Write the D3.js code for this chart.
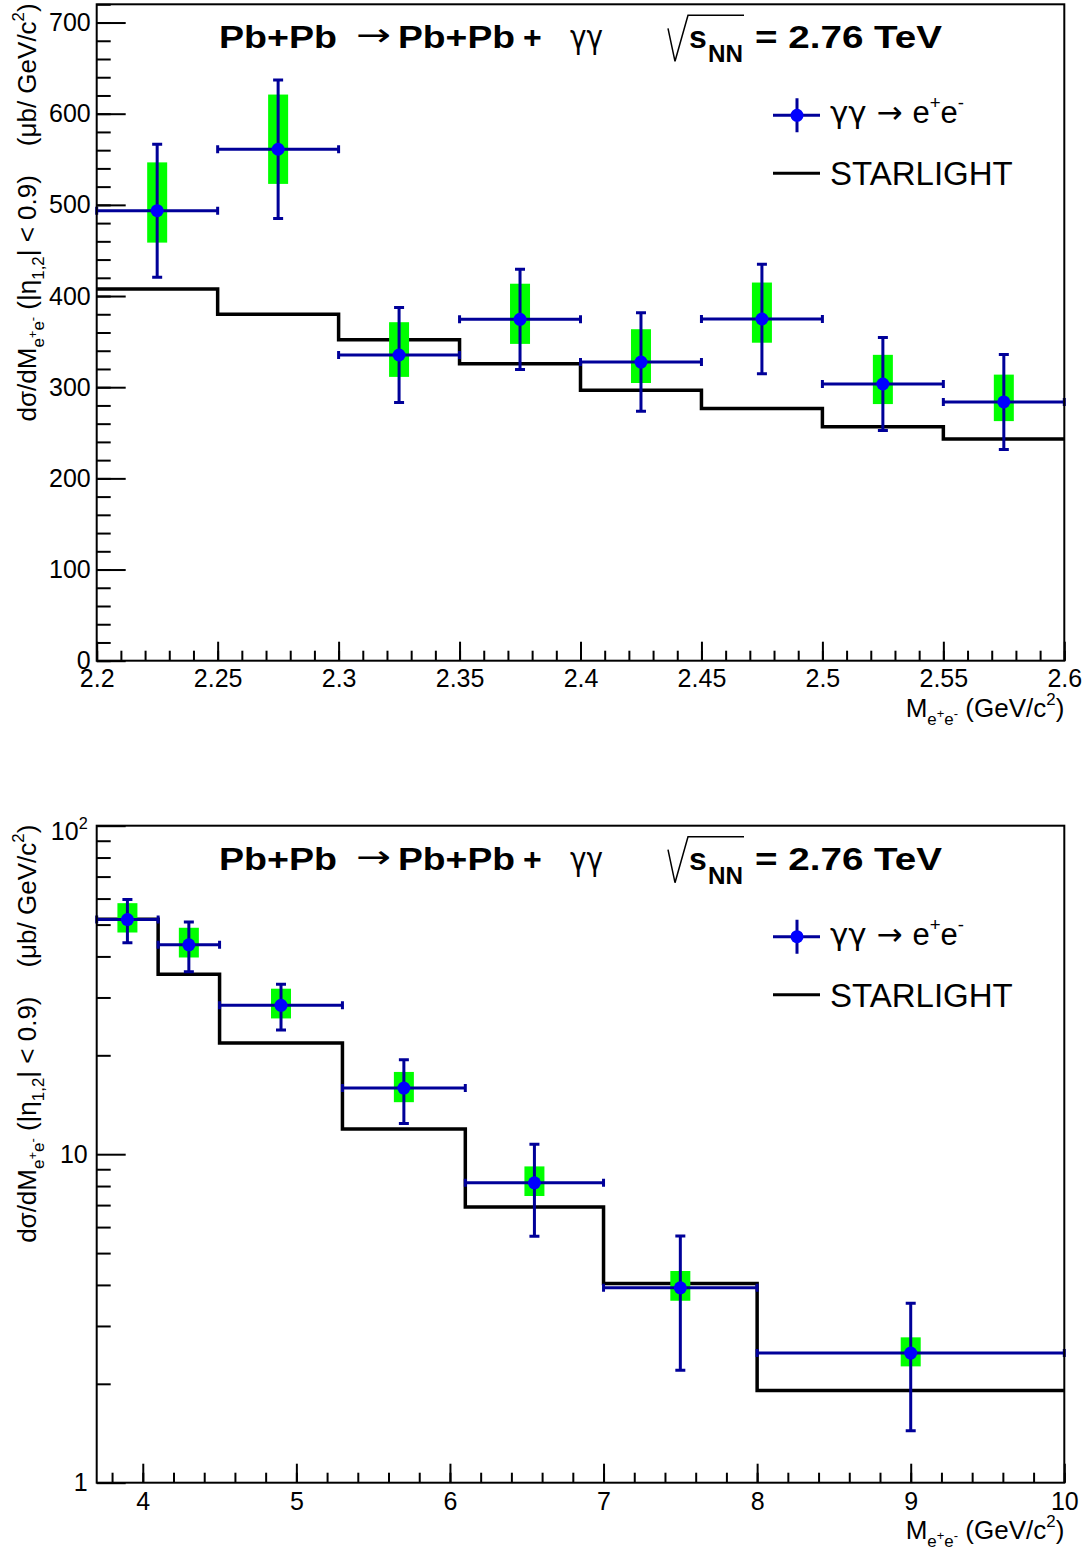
<!DOCTYPE html>
<html>
<head>
<meta charset="utf-8">
<script src="https://cdn.jsdelivr.net/npm/d3@7"></script>
<style>
body{margin:0;background:#fff}
svg{display:block}
text{font-family:"Liberation Sans",Arial,Helvetica,sans-serif}
</style>
</head>
<body>
<div id="chart"></div>
<script>
// low mass region, 2.2 - 2.6 GeV/c2
var lowEdges = [2.2,2.25,2.3,2.35,2.4,2.45,2.5,2.55,2.6];
var lowCenters = [2.225,2.275,2.325,2.375,2.425,2.475,2.525,2.575];
var lowCs = [493.6,561,335.3,374.5,327.6,374.8,303.5,283.8];
var lowStat = [73,76,52,55,54,60,51,52];
var lowSysUp = [53,60,36,39,36,40,32,30];
var lowSysDown = [35,38,24,27,23,26,22,21];
var lowStarlight = [407.7,380,352.1,325.8,296.6,276.6,256.7,243.2];
var lowXTicks = [2.2,2.25,2.3,2.35,2.4,2.45,2.5,2.55,2.6];
var lowYTicks = [0,100,200,300,400,500,600,700];

// high mass region, 3.7 - 10 GeV/c2
var highEdges = [3.7,4.1,4.5,5.3,6.1,7.0,8.0,10];
var highCenters = [3.9,4.3,4.9,5.7,6.55,7.5,9];
var highCs = [51.8,43.4,28.4,15.9,8.18,3.92,2.48];
var highStat = [7.8,7.5,4.5,3.5,2.55,1.72,1.04];
var highSysUp = [6.3,5.5,3.5,1.9,1.0,0.49,0.29];
var highSysDown = [4.5,3.7,2.5,1.5,0.72,0.34,0.22];
var highStarlight = [51.9,35.3,21.8,11.94,6.91,4.04,1.91];
var highXTicks = [4,5,6,7,8,9,10];
var highYTicks = [1,10,100];

var width = 1088, height = 1549;
var left = 96.7, right = 1064.3;

var svg = d3.select("#chart")
    .append("svg")
    .attr("width",width)
    .attr("height",height);

// text with sub/superscripts: parts = [text, scale, offset in em (down +), font]
function richText(sel,parts,size){
    var prev = 0;
    parts.forEach(function(p){
        var off = (p[2]||0)*size;
        var ts = sel.append("tspan")
            .attr("dy",off-prev)
            .attr("font-size",(p[1]||1)*size)
            .text(p[0]);
        if(p[3]) ts.style("font-family",p[3]);
        prev = off;
    });
}

var panels = [
    {top:4.3,bottom:660.7,log:false,
     x:d3.scaleLinear().domain([2.2,2.6]),
     y:d3.scaleLinear().domain([0,720]),
     edges:lowEdges,centers:lowCenters,cs:lowCs,stat:lowStat,
     sysUp:lowSysUp,sysDown:lowSysDown,model:lowStarlight,
     xTicks:lowXTicks,yTicks:lowYTicks,
     xMinor:d3.range(2.2,2.6001,0.01).map(v=>+v.toFixed(3)),
     yMinor:d3.range(0,721,20),
     xFmt:d=>String(+d.toFixed(2)),
     yPad:6,xPad:9},
    {top:825.7,bottom:1482.7,log:true,
     x:d3.scaleLinear().domain([3.7,10]),
     y:d3.scaleLog().domain([1,100]),
     edges:highEdges,centers:highCenters,cs:highCs,stat:highStat,
     sysUp:highSysUp,sysDown:highSysDown,model:highStarlight,
     xTicks:highXTicks,yTicks:highYTicks,
     xMinor:d3.range(3.8,10.001,0.2).map(v=>+v.toFixed(2)),
     yMinor:[2,3,4,5,6,7,8,9,20,30,40,50,60,70,80,90],
     xFmt:d=>String(d),
     yPad:9,xPad:10}
];

var SYM = "'DejaVu Sans',sans-serif";

panels.forEach(function(p){
    var x = p.x.range([left,right]);
    var y = p.y.range([p.bottom,p.top]);
    var g = svg.append("g");

    // axes, ticks inside the frame (ROOT style)
    var gxMinor = g.append("g")
        .attr("transform",`translate(0,${p.bottom})`)
        .call(d3.axisBottom(x).tickValues(p.xMinor).tickSizeInner(-10).tickSizeOuter(0).tickFormat(""));
    var gx = g.append("g")
        .attr("transform",`translate(0,${p.bottom})`)
        .call(d3.axisBottom(x).tickValues(p.xTicks).tickSizeInner(-19).tickSizeOuter(0)
            .tickPadding(p.xPad).tickFormat(p.xFmt));
    var gyMinor = g.append("g")
        .attr("transform",`translate(${left},0)`)
        .call(d3.axisLeft(y).tickValues(p.yMinor).tickSizeInner(-14).tickSizeOuter(0).tickFormat(""));
    var gy = g.append("g")
        .attr("transform",`translate(${left},0)`)
        .call(d3.axisLeft(y).tickValues(p.yTicks).tickSizeInner(-29).tickSizeOuter(0)
            .tickPadding(p.yPad).tickFormat(d=>String(d)));
    [gxMinor,gx,gyMinor,gy].forEach(function(a){
        a.select(".domain").remove();
        a.selectAll("line").attr("stroke","#000").attr("stroke-width",2);
        a.attr("font-size",25).attr("font-family",null);
        a.selectAll("text").attr("fill","#000");
    });
    // 10^2 label on the log axis
    if(p.log){
        gy.selectAll(".tick text").filter(d=>d===100).each(function(){
            var t = d3.select(this).attr("dy",null).text("");
            richText(t,[["10",1,0.55],["2",0.65,0.1],["",1,0.55]],25);
        });
    }

    // STARLIGHT histogram
    var steps = p.model.map((v,i)=>[p.edges[i],v]);
    steps.push([p.edges[p.edges.length-1],p.model[p.model.length-1]]);
    g.append("path")
        .attr("d",d3.line().x(d=>x(d[0])).y(d=>y(d[1])).curve(d3.curveStepAfter)(steps))
        .attr("fill","none")
        .attr("stroke","#000")
        .attr("stroke-width",3.5);

    // systematic boxes
    g.append("g").selectAll("rect")
        .data(p.cs)
        .enter()
        .append("rect")
        .attr("x",(d,i)=>x(p.centers[i])-10)
        .attr("width",20)
        .attr("y",(d,i)=>y(d+p.sysUp[i]))
        .attr("height",(d,i)=>y(d-p.sysDown[i])-y(d+p.sysUp[i]))
        .attr("fill","#00ff00");

    // statistical error bars
    var eb = g.append("g")
        .attr("stroke","#000099")
        .attr("stroke-width",3)
        .attr("fill","none");
    p.cs.forEach(function(d,i){
        var cx = x(p.centers[i]), cy = y(d);
        var x0 = x(p.edges[i]), x1 = x(p.edges[i+1]);
        var yt = y(d+p.stat[i]), yb = y(d-p.stat[i]);
        eb.append("path").attr("d",
            `M${x0},${cy}H${x1}M${x0},${cy-4}V${cy+4}M${x1},${cy-4}V${cy+4}`+
            `M${cx},${yt}V${yb}M${cx-5},${yt}H${cx+5}M${cx-5},${yb}H${cx+5}`);
    });
    g.append("g").selectAll("circle")
        .data(p.cs)
        .enter()
        .append("circle")
        .attr("cx",(d,i)=>x(p.centers[i]))
        .attr("cy",d=>y(d))
        .attr("r",6.5)
        .attr("fill","#0000ff");

    // frame
    g.append("rect")
        .attr("x",left).attr("y",p.top)
        .attr("width",right-left).attr("height",p.bottom-p.top)
        .attr("fill","none").attr("stroke","#000").attr("stroke-width",2);

    // title
    var t0 = p.top;
    var tg = g.append("g").attr("font-size",32).attr("fill","#000");
    tg.append("text").attr("x",219).attr("y",t0+44).attr("font-weight","bold")
        .attr("textLength",118).attr("lengthAdjust","spacingAndGlyphs").text("Pb+Pb");
    tg.append("text").attr("x",356).attr("y",t0+42).style("font-family",SYM)
        .attr("textLength",35).attr("lengthAdjust","spacingAndGlyphs").text("→");
    tg.append("text").attr("x",398).attr("y",t0+44).attr("font-weight","bold")
        .attr("textLength",117).attr("lengthAdjust","spacingAndGlyphs").text("Pb+Pb");
    tg.append("text").attr("x",523).attr("y",t0+44).attr("font-weight","bold").text("+");
    tg.append("text").attr("x",570).attr("y",t0+44).style("font-family",SYM)
        .attr("textLength",33).attr("lengthAdjust","spacingAndGlyphs").text("γγ");
    tg.append("path")
        .attr("d",`M668,${t0+24}L675,${t0+57}L688,${t0+11}H744`)
        .attr("fill","none").attr("stroke","#000").attr("stroke-width",1.5);
    tg.append("text").attr("x",689).attr("y",t0+44).attr("font-weight","bold").text("s");
    tg.append("text").attr("x",708).attr("y",t0+58).attr("font-weight","bold")
        .attr("font-size",23).attr("textLength",35).attr("lengthAdjust","spacingAndGlyphs").text("NN");
    tg.append("text").attr("x",755).attr("y",t0+44).attr("font-weight","bold")
        .attr("textLength",187).attr("lengthAdjust","spacingAndGlyphs").text("= 2.76 TeV");

    // legend
    var ly1 = t0+111, ly2 = t0+169;
    g.append("path")
        .attr("d",`M773,${ly1}H820M797,${ly1-17}V${ly1+17}`)
        .attr("stroke","#000099").attr("stroke-width",3);
    g.append("circle").attr("cx",797).attr("cy",ly1).attr("r",6.5).attr("fill","#0000ff");
    var lt = g.append("text").attr("x",830).attr("y",ly1+8).attr("fill","#000")
        .style("white-space","pre");
    richText(lt,[["γγ ",1,0,SYM],["→ ",1,0,SYM],["e"],["+",0.6,-0.45],["e",1,0],["-",0.6,-0.45],["",1,0]],31);
    g.append("path")
        .attr("d",`M773,${ly2}H820`)
        .attr("stroke","#000").attr("stroke-width",3);
    g.append("text").attr("x",830).attr("y",ly2+12).attr("font-size",33).attr("fill","#000")
        .text("STARLIGHT");

    // axis titles
    var yt = g.append("text")
        .attr("transform",`translate(36,${p.top-1})rotate(-90)`)
        .attr("text-anchor","end")
        .style("white-space","pre")
        .attr("fill","#000");
    richText(yt,[["dσ/dM"],["e",0.65,0.3],["+",0.5,0.05],["e",0.65,0.3],["-",0.5,0.05],
        [" (|η",1,0],["1,2",0.65,0.3],["| < 0.9)",1,0],["    (μb/ GeV/c",1,0],
        ["2",0.65,-0.45],[")",1,0]],26);
    var xt = g.append("text")
        .attr("x",right).attr("y",p.bottom+56)
        .attr("text-anchor","end")
        .attr("fill","#000");
    richText(xt,[["M"],["e",0.65,0.3],["+",0.5,0.05],["e",0.65,0.3],["-",0.5,0.05],
        [" (GeV/c",1,0],["2",0.65,-0.45],[")",1,0]],26);
});
</script>
</body>
</html>
